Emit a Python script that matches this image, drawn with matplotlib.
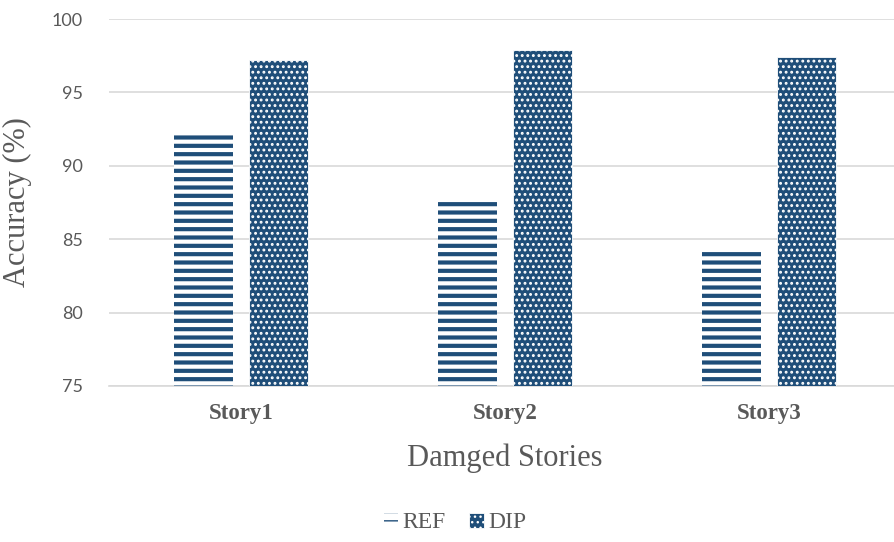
import matplotlib.pyplot as plt
import matplotlib as mpl
from matplotlib.font_manager import FontProperties
import numpy as np

# values
stories = ['Story1', 'Story2', 'Story3']
ref_acc = [92.2, 87.8, 84.4]
dip_acc = [97.2, 97.9, 97.4]

blue = '#1f4e79'
grey_txt = '#595959'

serif = FontProperties(family='Liberation Serif', size=22)
serif_bold = FontProperties(family='Liberation Serif', weight='bold', size=16.5)
serif_leg = FontProperties(family='Liberation Serif', size=17)
sans_tick = FontProperties(family='Lato', size=13)

fig = plt.figure(figsize=(8.94, 5.42), dpi=100)
ax = fig.add_axes([109 / 894, 156 / 542, 792 / 894, 367 / 542])

x = np.arange(len(stories))
w = 0.227
off = 0.142

# REF: blue horizontal stripes on white
with mpl.rc_context({'hatch.linewidth': 3.0}):
    ref_bars = ax.bar(x - off, ref_acc, w, bottom=0, color='white',
                      edgecolor=blue, linewidth=0, hatch='--', label='REF', zorder=3)
# DIP: white dots on blue
with mpl.rc_context({'hatch.linewidth': 1.3}):
    dip_bars = ax.bar(x + off, dip_acc, w, bottom=0, color=blue,
                      edgecolor='white', linewidth=0.6, hatch='...', label='DIP', zorder=3)

ax.set_ylim(75, 100)
ax.set_xlim(-0.5, 2.5)
ax.set_yticks(np.arange(75, 101, 5))
ax.yaxis.grid(True, color='#d9d9d9', linewidth=1.2, zorder=0)
ax.set_axisbelow(True)
for s in ['top', 'right', 'left']:
    ax.spines[s].set_visible(False)
ax.spines['bottom'].set_color('#d9d9d9')
ax.spines['bottom'].set_linewidth(1.2)

ax.set_xticks(x)
ax.set_xticklabels(stories)
for t in ax.get_xticklabels():
    t.set_fontproperties(serif_bold)
    t.set_color(grey_txt)
for t in ax.get_yticklabels():
    t.set_fontproperties(sans_tick)
    t.set_color(grey_txt)
ax.tick_params(axis='x', length=0, pad=12)
ax.tick_params(axis='y', length=0, pad=19)

ax.set_xlabel('Damged Stories', fontproperties=serif, color=grey_txt, labelpad=14)
ax.set_ylabel('Accuracy (%)', fontproperties=serif, color=grey_txt, labelpad=14)

leg = fig.legend(handles=[ref_bars, dip_bars], labels=['REF', 'DIP'],
                 loc='center', bbox_to_anchor=(455 / 894, 1 - 523 / 542),
                 ncol=2, frameon=False, handlelength=0.6, handleheight=0.6,
                 handletextpad=0.2, columnspacing=1.0, prop=serif_leg)
for t in leg.get_texts():
    t.set_color(grey_txt)

fig.savefig('out.png', dpi=100)
